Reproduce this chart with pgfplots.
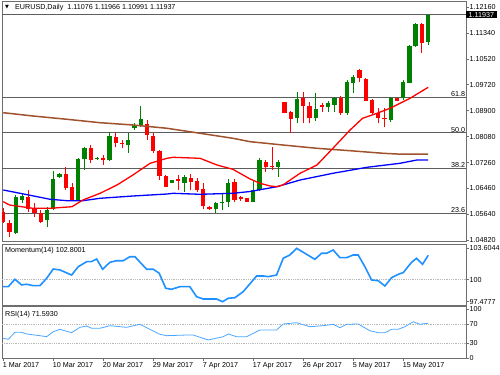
\documentclass[border=0pt]{standalone}
\usepackage{pgfplots}
\pgfplotsset{compat=1.18}
\usepackage{pgfplotstable}
\usepackage{fontspec}
\setmainfont{Liberation Sans}
\newfontfamily\dvs{DejaVu Sans}
\newcommand\lab{\fontsize{7.2}{8}\selectfont}
\definecolor{cgreen}{RGB}{0,128,0}
\definecolor{cred}{RGB}{255,0,0}
\definecolor{cblue}{RGB}{0,0,255}
\definecolor{cbrown}{RGB}{160,82,45}
\definecolor{mom}{RGB}{30,144,255}
\definecolor{frame}{RGB}{110,110,110}

\pgfplotstableread{
i O H L C
2 1.05051 1.06241 1.05010 1.06187
3 1.06083 1.06294 1.05979 1.06209
7 1.05452 1.05872 1.05240 1.05767
8 1.05789 1.07008 1.05767 1.06736
9 1.06800 1.06920 1.06778 1.06894
12 1.06083 1.07409 1.06061 1.07368
13 1.07368 1.07766 1.07030 1.07715
15 1.07377 1.07441 1.07346 1.07418
17 1.07346 1.08230 1.07314 1.08103
20 1.07819 1.08198 1.07576 1.07977
21 1.08347 1.08523 1.08293 1.08451
22 1.08419 1.09051 1.08397 1.08631
27 1.06629 1.06730 1.06620 1.06714
29 1.06629 1.06872 1.06345 1.06819
34 1.05789 1.06029 1.05663 1.05979
35 1.05979 1.06272 1.05767 1.06029
36 1.06029 1.06737 1.05852 1.06629
40 1.06029 1.06692 1.06020 1.06399
41 1.06399 1.07399 1.06367 1.07346
44 1.07134 1.07346 1.06819 1.07292
47 1.08662 1.09483 1.08504 1.09272
50 1.08681 1.09451 1.08587 1.08946
52 1.09010 1.09208 1.08852 1.09136
53 1.09082 1.09344 1.08852 1.09294
55 1.08845 1.09871 1.08766 1.09818
56 1.09786 1.10029 1.09452 1.09976
62 1.08609 1.09325 1.08555 1.09294
64 1.09294 1.09871 1.09240 1.09818
65 1.09786 1.10976 1.09777 1.10935
66 1.10935 1.11680 1.10913 1.11624
68 1.11076 1.11966 1.10991 1.11937
}\bull

\pgfplotstableread{
i O H L C
0 1.05714 1.05830 1.05357 1.05398
1 1.05366 1.05452 1.04924 1.05082
4 1.06168 1.06399 1.05714 1.05799
5 1.05821 1.05979 1.05556 1.05663
6 1.05682 1.05767 1.05347 1.05398
10 1.06894 1.07115 1.06399 1.06471
11 1.06503 1.06620 1.06061 1.06083
14 1.07715 1.07819 1.07261 1.07346
16 1.07418 1.07504 1.07188 1.07346
18 1.08081 1.08208 1.07747 1.07873
19 1.07892 1.07977 1.07715 1.07841
23 1.08473 1.08609 1.07977 1.08135
24 1.08113 1.08189 1.07557 1.07630
25 1.07630 1.07661 1.06714 1.06841
26 1.06841 1.06872 1.06484 1.06503
28 1.06746 1.06872 1.06399 1.06683
30 1.06787 1.06904 1.06399 1.06661
31 1.06692 1.06778 1.06345 1.06399
32 1.06421 1.06620 1.05789 1.05894
33 1.05871 1.05894 1.05767 1.05789
37 1.06661 1.06737 1.06029 1.06083
38 1.06168 1.06209 1.06061 1.06105
39 1.06137 1.06146 1.06020 1.06029
42 1.07292 1.07346 1.06976 1.07134
43 1.07156 1.07747 1.07030 1.07125
45 1.09167 1.09177 1.08814 1.08820
46 1.08852 1.08902 1.08208 1.08640
48 1.09294 1.09502 1.08504 1.09060
49 1.09060 1.09186 1.08504 1.08681
51 1.09082 1.09136 1.08871 1.09029
54 1.09294 1.09366 1.08766 1.08845
57 1.10187 1.10209 1.09818 1.09925
58 1.09903 1.09935 1.09208 1.09224
59 1.09240 1.09272 1.08766 1.08820
60 1.08820 1.08978 1.08504 1.08662
61 1.08662 1.08978 1.08378 1.08631
63 1.09294 1.09303 1.09208 1.09218
67 1.11624 1.11680 1.10724 1.11039
}\bear

\pgfplotsset{
  panel/.style={
    scale only axis, width=464bp, xmin=-0.2, xmax=74.05,
    anchor=north west,
    axis line style={draw=frame, line width=1bp},
    clip mode=individual,
    xtick=\empty, xtick pos=bottom,
    ytick pos=right, yticklabel pos=right,
    tick align=outside, major tick length=3bp,
    tick style={draw=frame, line width=0.6bp},
    yticklabel style={font=\lab, anchor=west, inner sep=0pt, xshift=0.5bp},
    scaled y ticks=false,
  },
  wick/.style={draw=none, mark=none, forget plot, error bars/.cd, y dir=plus, y explicit, error mark=none, error bar style={draw=#1, line width=0.9bp}},
  body/.style={draw=none, mark=none, forget plot, error bars/.cd, y dir=plus, y explicit, error mark=none, error bar style={draw=#1, line width=4.4bp}},
  fib/.style={draw=frame!85!black, line width=1.1bp, forget plot},
}

\begin{document}
\begin{tikzpicture}
\useasboundingbox (0,0) rectangle (500bp,375bp);

% ---------------- main price panel ----------------
\begin{axis}[panel, at={(2bp,373bp)}, height=240bp,
  ymin=1.04757, ymax=1.12334,
  ytick={1.04820,1.05640,1.06460,1.07260,1.08080,1.08900,1.09720,1.10520,1.11340,1.12160},
  yticklabels={1.04820,1.05640,1.06460,1.07260,1.08080,1.08900,1.09720,1.10520,1.11340,1.12160}]
% Fibonacci levels and bid line
\addplot[fib] coordinates {(-0.2,1.09333) (74.05,1.09333)};
\addplot[fib] coordinates {(-0.2,1.08200) (74.05,1.08200)};
\addplot[fib] coordinates {(-0.2,1.07067) (74.05,1.07067)};
\addplot[fib] coordinates {(-0.2,1.05666) (74.05,1.05666)};
\addplot[fib] coordinates {(-0.2,1.11937) (74.05,1.11937)};
% candles
\addplot[wick=cgreen] table[x=i, y=L, y error plus expr={\thisrow{H}-\thisrow{L}}] {\bull};
\addplot[body=cgreen] table[x=i, y=O, y error plus expr={max(\thisrow{C}-\thisrow{O},0.00035)}] {\bull};
\addplot[wick=cred] table[x=i, y=L, y error plus expr={\thisrow{H}-\thisrow{L}}] {\bear};
\addplot[body=cred] table[x=i, y=C, y error plus expr={max(\thisrow{O}-\thisrow{C},0.00035)}] {\bear};
% moving averages
\addplot[cbrown, line width=1.5bp, forget plot] coordinates {(0,1.08839) (4.75,1.08735) (10.2,1.08631) (15.5,1.08523) (20.75,1.08451) (26.2,1.08347) (31.5,1.08189) (36.75,1.08031) (39.5,1.07924) (44.75,1.07819) (50.2,1.07715) (55.5,1.07639) (60.8,1.07557) (63,1.07535) (68,1.07535)};
\addplot[cblue, line width=1.3bp, forget plot] coordinates {(0,1.06399) (2.7,1.06294) (5.9,1.06168) (7.5,1.06105) (10.2,1.06061) (12.75,1.06061) (15.5,1.06137) (20.75,1.06209) (26.2,1.06272) (27.2,1.06294) (31.5,1.06263) (36.75,1.06294) (39.5,1.06351) (43.8,1.06503) (47.5,1.06714) (52.75,1.06926) (58.2,1.07115) (63.5,1.07242) (66.2,1.07346) (68,1.07346)};
\addplot[cred, line width=1.3bp, forget plot] coordinates {(0,1.06029) (1,1.05925) (4.75,1.05821) (7.5,1.05821) (11,1.05871) (12.75,1.06083) (15.5,1.06295) (18.2,1.06557) (20.75,1.06872) (23.5,1.07242) (26.2,1.07399) (27.2,1.07431) (31.5,1.07399) (34.2,1.07188) (36.75,1.07052) (39.5,1.06746) (41.1,1.06610) (42.7,1.06525) (43.8,1.06503) (44.75,1.06557) (47.5,1.06926) (50.2,1.07188) (52.75,1.07715) (55.5,1.08293) (57.5,1.08662) (59.8,1.08820) (61.9,1.08978) (65.1,1.09294) (68,1.09641)};
% annotations
\node[anchor=south east, font=\lab, inner sep=0.6bp] at (axis cs:74.05,1.09333) {61.8};
\node[anchor=south east, font=\lab, inner sep=0.6bp] at (axis cs:74.05,1.08200) {50.0};
\node[anchor=south east, font=\lab, inner sep=0.6bp] at (axis cs:74.05,1.07067) {38.2};
\node[anchor=south east, font=\lab, inner sep=0.6bp] at (axis cs:74.05,1.05666) {23.6};
\node[fill=black, text=white, font=\lab, inner xsep=2.5bp, inner ysep=1bp, anchor=west] at (axis cs:74.05,1.11937) {1.11937};
\node[anchor=west, font=\lab, inner sep=0pt] at ([xshift=13bp,yshift=-5.5bp]rel axis cs:0,1) {EURUSD,Daily\ \ 1.11076 1.11966 1.10991 1.11937};
\node[anchor=west, inner sep=0pt, font=\dvs\fontsize{5}{6}\selectfont] at ([xshift=3bp,yshift=-5.5bp]rel axis cs:0,1) {▼};
\end{axis}

% ---------------- momentum panel ----------------
\begin{axis}[panel, at={(2bp,130bp)}, height=60bp,
  ymin=97.101, ymax=103.982,
  ytick={97.4777,100,103.6044}, yticklabels={97.4777,100,103.6044}]
\addplot[gray!55, densely dotted, line width=0.8bp, forget plot] coordinates {(-0.2,100) (74.05,100)};
\addplot[mom, line width=1.6bp] coordinates {(0,99.20) (0.8,99.20) (1.87,100.05) (2.94,99.40) (3.74,99.48) (4.8,99.32) (5.87,99.32) (6.94,100.16) (8,101.23) (9.07,101.12) (10.94,100.54) (12,101.49) (13.34,102.07) (14.1,102.07) (14.94,102.38) (15.9,101.20) (17.07,102.00) (18.14,102.18) (19.2,102.18) (20.27,102.64) (21.07,102.64) (22.94,101.20) (24,101.20) (24.96,100.74) (26,99.02) (26.94,98.90) (28.27,99.20) (29.87,99.20) (30.94,98.05) (32,97.79) (34.14,97.79) (35.1,97.48) (36,97.87) (37.07,97.94) (38.4,98.63) (40.54,100.43) (41.6,100.43) (42.4,100.35) (43.74,100.54) (44.8,102.46) (45.87,102.84) (46.94,103.60) (48.27,103.03) (49.87,102.34) (50.94,103.03) (51.74,103.03) (52.8,103.41) (53.87,102.53) (54.94,102.53) (56,102.84) (56.8,102.84) (57.87,101.49) (58.94,99.97) (60,99.89) (61.07,99.28) (62.14,100.23) (63.2,100.62) (64,100.81) (65.34,102.00) (66.14,102.46) (67.1,101.77) (68,102.80)};
\node[anchor=west, font=\lab, inner sep=0pt] at ([xshift=3bp,yshift=-6bp]rel axis cs:0,1) {Momentum(14) 102.8001};
\end{axis}

% ---------------- RSI panel ----------------
\begin{axis}[panel, at={(2bp,68bp)}, height=51bp,
  ymin=-0.4, ymax=105.2,
  ytick={0,30,70,100}, yticklabels={0,30,70,100},
  xtick={0,8,16,24,32,40,48,56,64},
  xticklabels={1 Mar 2017,10 Mar 2017,20 Mar 2017,29 Mar 2017,7 Apr 2017,17 Apr 2017,26 Apr 2017,5 May 2017,15 May 2017},
  xticklabel style={font=\lab, anchor=north west, inner sep=0pt, xshift=-0.5bp, yshift=-1.5bp}]
\addplot[gray!55, densely dotted, line width=0.8bp, forget plot] coordinates {(-0.2,70) (74.05,70)};
\addplot[gray!55, densely dotted, line width=0.8bp, forget plot] coordinates {(-0.2,30) (74.05,30)};
\addplot[mom!80, line width=0.8bp] coordinates {(0,40.4) (0.8,38.3) (1.87,52.8) (2.94,52.8) (3.74,49.3) (5.87,45.8) (6.94,43.7) (8,54.0) (9.07,59.0) (10.94,52.0) (12.27,63.1) (13.34,65.8) (14.14,61.1) (15.47,61.1) (17.07,66.5) (19.74,63.1) (21.87,69.4) (25.07,48.7) (26.14,45.8) (29.34,47.2) (30.4,47.2) (32.8,36.9) (35.2,43.7) (36,49.3) (37.34,43.7) (38.94,43.7) (41.07,57.6) (43.74,57.6) (44.8,70.0) (46.94,72.7) (49.07,64.4) (51.2,66.5) (52.8,69.4) (53.87,62.3) (54.94,69.4) (56.8,70.0) (58.67,56.1) (60,52.0) (61.07,52.0) (62.14,59.0) (63.2,59.0) (64.27,64.4) (65.6,74.7) (66.67,69.4) (68,71.6)};
\node[anchor=west, font=\lab, inner sep=0pt] at ([xshift=3bp,yshift=-8bp]rel axis cs:0,1) {RSI(14) 71.5930};
\end{axis}
\end{tikzpicture}
\end{document}
